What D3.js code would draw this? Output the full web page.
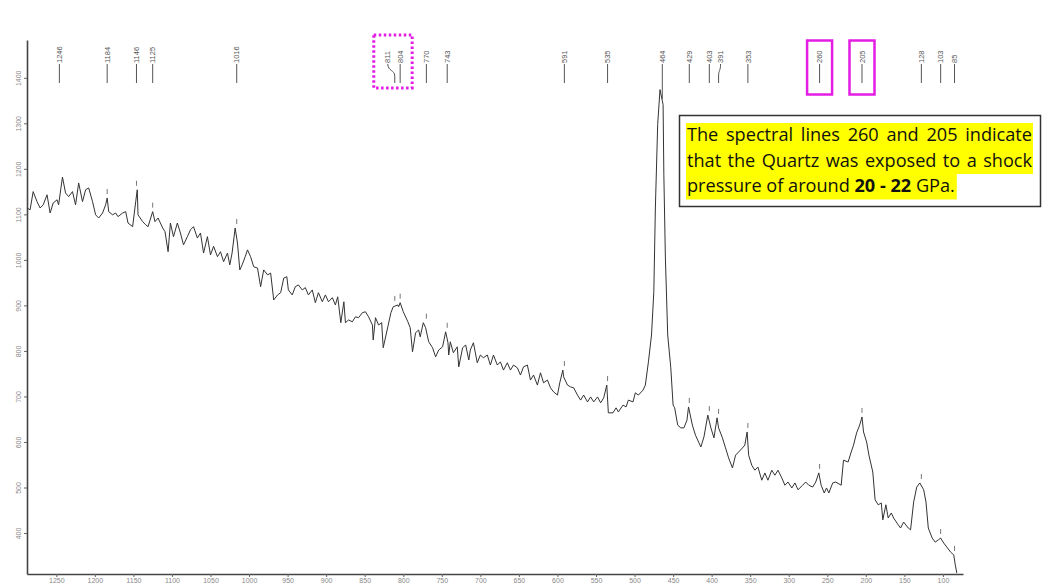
<!DOCTYPE html>
<html><head><meta charset="utf-8">
<script src="https://cdn.jsdelivr.net/npm/d3@7"></script>
<style>body{margin:0;background:#fff} svg{display:block}</style>
</head><body>
<svg id="c" width="1049" height="587"></svg>
<script>
// ---- data ----
const xTicks = [1250,1200,1150,1100,1050,1000,950,900,850,800,750,700,650,600,550,500,450,400,350,300,250,200,150,100];
const yTicks = [400,500,600,700,800,900,1000,1100,1200,1300,1400];
const peakLabels = [1246,1184,1146,1125,1016,811,804,770,743,591,535,464,429,403,391,353,260,205,128,103,85];
const highlightedPeaks = [260,205];
const groupedPeaks = [811,804];
const wavenumbers = [1288,1284,1280,1275,1271,1267,1262,1258,1254,1249,1247,1242,1238,1234,1229,1225,1221,1216,1212,1208,1203,1199,1195,1190,1186,1184,1182,1177,1173,1170,1164,1160,1157,1151,1147,1145,1144,1138,1134,1131,1125,1122,1118,1112,1109,1105,1102,1098,1093,1089,1085,1080,1076,1072,1067,1063,1059,1054,1050,1046,1041,1037,1033,1028,1025,1022,1018,1015,1012,1009,1005,1002,998,994,989,985,981,976,972,968,963,959,955,951,949,944,940,936,931,927,923,918,914,910,905,901,897,892,888,885,881,877,875,871,866,862,858,853,849,845,840,839,836,832,828,826,820,816,813,807,806,804,800,794,791,788,784,780,778,774,771,767,762,758,754,749,745,742,741,739,735,730,728,723,719,715,713,709,704,700,696,691,687,683,678,674,670,665,661,657,652,648,644,639,635,631,626,622,618,613,609,605,600,597,593,592,587,583,579,574,570,566,561,557,553,548,544,540,536,534,528,524,521,515,511,508,502,499,495,489,486,482,478,475,473,470,467,463,462,460,457,453,450,448,444,440,436,432,430,425,421,414,410,405,401,397,393,391,386,382,378,373,369,365,360,357,354,352,348,344,340,335,331,327,322,318,314,309,305,301,296,292,288,282,278,274,269,265,261,258,254,251,248,243,239,232,229,223,219,216,212,208,205,203,199,196,191,188,184,180,178,174,171,167,164,158,155,151,145,142,138,134,130,125,122,119,114,110,106,103,99,94,90,86,84,82];
const intensities = [1114,1110,1150,1128,1114,1121,1143,1103,1125,1132,1121,1182,1147,1139,1150,1121,1169,1128,1154,1158,1128,1099,1092,1103,1121,1136,1106,1099,1103,1095,1103,1106,1081,1073,1128,1154,1099,1084,1077,1073,1106,1084,1092,1070,1062,1018,1081,1051,1081,1059,1033,1051,1066,1073,1048,1059,1015,1051,1011,1030,1007,1018,996,1015,989,1015,1070,1037,978,989,1007,1022,1007,985,982,941,978,967,971,912,923,928,960,963,934,923,941,945,934,939,923,934,906,928,908,923,908,917,901,919,862,908,862,868,864,875,873,884,886,875,857,824,873,857,862,807,853,884,897,901,897,906,886,864,851,798,840,846,831,862,851,820,807,787,802,809,842,818,791,820,796,809,765,807,813,780,802,818,774,791,785,791,769,791,769,776,758,774,758,769,763,747,765,769,736,747,725,752,730,736,719,710,703,730,758,743,725,721,719,703,692,703,688,699,688,699,686,697,725,664,664,675,666,681,677,692,688,708,703,714,725,776,835,930,1114,1297,1374,1341,1187,1004,835,763,681,675,637,631,631,648,677,637,615,589,611,659,631,609,653,631,609,587,565,543,571,578,587,593,622,571,549,538,545,516,532,516,538,527,538,521,505,512,499,510,495,505,512,505,501,512,532,505,488,499,488,510,512,505,560,556,578,593,620,637,655,622,600,571,534,473,462,466,429,462,433,444,433,418,411,424,411,407,468,501,510,495,468,411,389,380,385,389,378,367,358,352,330,312];
const noteLines = ["The spectral lines 260 and 205 indicate", "that the Quartz was exposed to a shock"];
const noteLast = ["pressure of around ", "20 - 22", " GPa."];

// ---- chart ----
const svg = d3.select('#c');
const x = d3.scaleLinear().domain([1288, 74]).range([27, 963]);
const y = d3.scaleLinear().domain([310, 1483]).range([574, 40]);
const pts = wavenumbers.map((w,i)=>[w,intensities[i]]);

// axes
const gx = svg.append('g').attr('transform','translate(0,574)')
  .call(d3.axisBottom(x).tickValues(xTicks).tickSize(3).tickSizeOuter(0).tickFormat(d3.format('d')));
gx.selectAll('text').attr('y',4).attr('dy','0.71em').style('font-family','Liberation Sans, Arial').style('font-size','7px').attr('fill','#888');
gx.selectAll('.tick line').attr('stroke','#666');
gx.select('.domain').attr('stroke','#444').attr('stroke-width',1.6);

const gy = svg.append('g').attr('transform','translate(27,0)')
  .call(d3.axisLeft(y).tickValues(yTicks).tickSize(3).tickSizeOuter(0).tickFormat(d3.format('d')));
gy.selectAll('text').attr('transform','rotate(-90)').attr('x',0).attr('y',-6).attr('dy',0)
  .style('text-anchor','middle').style('font-family','Liberation Sans, Arial').style('font-size','7px').attr('fill','#888');
gy.selectAll('.tick line').attr('stroke','#666');
gy.select('.domain').attr('stroke','#444').attr('stroke-width',1.6);

// spectrum
svg.append('path').datum(pts)
  .attr('d', d3.line().x(d=>x(d[0])).y(d=>y(d[1])))
  .attr('fill','none').attr('stroke','#333').attr('stroke-width',1);

// peak markers on curve
function localMax(v){ let m=-Infinity; pts.forEach(p=>{ if(Math.abs(p[0]-v)<=4 && p[1]>m) m=p[1]; }); return m; }
peakLabels.filter(v=>v!==464 && v!==1246).forEach(v=>{
  const yy = y(localMax(v));
  svg.append('line').attr('x1',x(v)).attr('x2',x(v)).attr('y1',yy-9).attr('y2',yy-4)
    .attr('stroke','#777').attr('stroke-width',1);
});

// peak labels on top
const labelShift = v => v===811 ? -7 : (v===391 ? 2 : 0);
peakLabels.forEach(v=>{
  const px = x(v) + labelShift(v), tx = x(v);
  svg.append('text').attr('transform',`translate(${px},63) rotate(-90)`)
    .attr('dy','0.35em').style('text-anchor','start')
    .style('font-family','Liberation Sans, Arial').style('font-size','7.5px').attr('fill','#555').text(v);
  const yEnd = v===464 ? 99 : 83;
  const d = px===tx ? `M${tx},64 L${tx},${yEnd}` : `M${px},64 C${px},71 ${tx},70 ${tx},76 L${tx},${yEnd}`;
  svg.append('path').attr('d',d).attr('fill','none').attr('stroke','#555').attr('stroke-width',1);
});

// magenta boxes
const gxs = groupedPeaks.map(v=>x(v)+labelShift(v));
svg.append('rect').attr('x',d3.min(gxs)-14).attr('y',35).attr('width',d3.max(gxs)-d3.min(gxs)+26).attr('height',53)
  .attr('fill','none').attr('stroke','#e31de3').attr('stroke-width',3).attr('stroke-dasharray','2.5,2.5');
highlightedPeaks.forEach(v=>{
  svg.append('rect').attr('x',x(v)-12.5).attr('y',40.5).attr('width',25).attr('height',54)
    .attr('fill','none').attr('stroke','#e31de3').attr('stroke-width',2.5);
});

// annotation
const ann = svg.append('g');
ann.append('rect').attr('x',679.5).attr('y',115.5).attr('width',361).attr('height',91)
  .attr('fill','#fff').attr('stroke','#333').attr('stroke-width',1.5);
const bl = [141, 166.5, 192];
const fam = '"Open Sans", Lato, sans-serif';
const hl = ann.append('g');
const txt = ann.append('g');
const left = 687, right = 1032, lastWidth = 268;
// size the font so the last (ragged) line has the reference width
const t3 = txt.append('text').attr('x',left).attr('y',bl[2]).style('font-family',fam).style('font-size','17px').attr('fill','#111');
noteLast.forEach((s,i)=>{ t3.append('tspan').style('font-weight', i===1?'bold':'normal').text(s); });
const fsPx = 17 * lastWidth / t3.node().getComputedTextLength();
const fs = fsPx.toFixed(2) + 'px';
t3.style('font-size', fs);
// justified lines: distribute extra room between words
noteLines.forEach((t,i)=>{
  const words = t.split(' ');
  const nodes = words.map(w => txt.append('text').attr('y',bl[i]).style('font-family',fam).style('font-size',fs).attr('fill','#111').text(w));
  const widths = nodes.map(n => n.node().getComputedTextLength());
  const gap = (right - left - d3.sum(widths)) / (words.length - 1);
  let cx = left;
  nodes.forEach((n,j)=>{ n.attr('x',cx); cx += widths[j] + gap; });
});
const w3 = t3.node().getComputedTextLength();
hl.append('rect').attr('x',686).attr('y',bl[0]-18).attr('width',right-686+1).attr('height',bl[1]-bl[0]+25.5).attr('fill','#ffff00');
hl.append('rect').attr('x',686).attr('y',bl[2]-18).attr('width',w3+3).attr('height',25.5).attr('fill','#ffff00');
</script>
</body></html>
